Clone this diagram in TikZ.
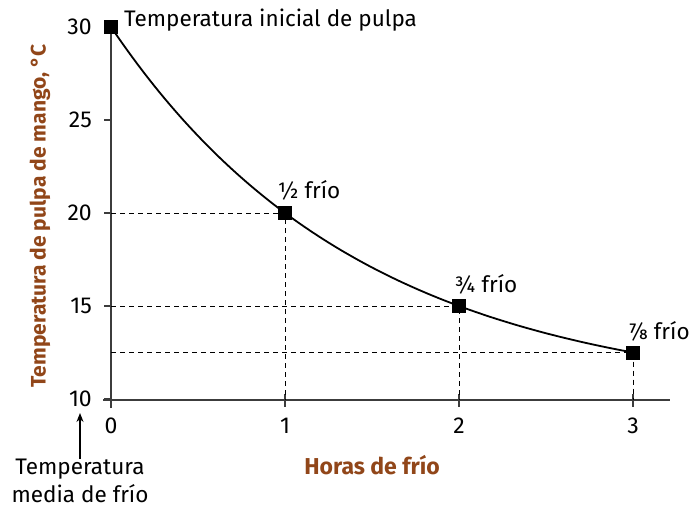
\documentclass[tikz,border=0pt]{standalone}
\usepackage{fontspec}
\setmainfont{Fira Sans}
\usetikzlibrary{arrows.meta}
\definecolor{axbrown}{RGB}{145,70,25}
\definecolor{axgray}{RGB}{60,60,60}
\begin{document}
\begin{tikzpicture}[x=1pt,y=-1pt,
  font=\fontsize{22.5}{27}\selectfont,
  axisline/.style={draw=axgray,line width=1.4pt},
  tickline/.style={draw=axgray,line width=1.2pt},
  guide/.style={draw=black,line width=0.9pt,dash pattern=on 5pt off 4pt},
  curveline/.style={draw=black,line width=1.8pt},
  marker/.style={fill=black,minimum size=14pt,inner sep=0pt,outer sep=0pt},
  ticklab/.style={inner sep=0pt,font=\fontsize{23}{27}\selectfont},
  axlabel/.style={text=axbrown,inner sep=0pt},
  note/.style={inner sep=0pt}]
\useasboundingbox (0,0) rectangle (699,508);
% axes
\coordinate (xl) at (103,400);
\coordinate (xr) at (670,400);
\coordinate (yb) at (111,408);
\coordinate (yt) at (111,24);
\draw[axisline] (xl) -- (xr);
\draw[axisline] (yb) -- (yt);
% y ticks
\foreach \v/\py in {30/27,25/120,20/213,15/306,10/399}{
  \coordinate (yt\v) at (104,\py);
  \coordinate (ya\v) at (111,\py);
  \draw[tickline] (yt\v) -- (ya\v);
  \node[ticklab,anchor=east] (yl\v) at (92,\py) {\v};
}
% x ticks
\foreach \v/\px in {0/111,1/285,2/459,3/633}{
  \coordinate (xa\v) at (\px,394);
  \coordinate (xb\v) at (\px,407);
  \draw[tickline] (xa\v) -- (xb\v);
  \node[ticklab] (xl\v) at (\px,426) {\v};
}
% guide lines
\coordinate (g1) at (111,213);
\coordinate (g2) at (111,306);
\coordinate (g3) at (111,352.5);
\coordinate (h1) at (285,400);
\coordinate (h2) at (459,400);
\coordinate (h3) at (633,400);
\node[marker] (p0) at (111,27) {};
\node[marker] (p1) at (285,213) {};
\node[marker] (p2) at (459,306) {};
\node[marker] (p3) at (633,352.5) {};
\draw[guide] (g1) -- (p1.center) -- (h1);
\draw[guide] (g2) -- (p2.center) -- (h2);
\draw[guide] (g3) -- (p3.center) -- (h3);
% curve
\draw[curveline] plot[domain=0:3,samples=80,smooth] ({111+174*\x},{399-372*exp(-0.693147*\x)});
\node[marker] at (p0) {};
\node[marker] at (p1) {};
\node[marker] at (p2) {};
\node[marker] at (p3) {};
% labels
\node[note,anchor=west] (lab0) at (124,20) {Temperatura inicial de pulpa};
\node[note] (lab1) at (309,190) {½ frío};
\node[note] (lab2) at (486,284) {¾ frío};
\node[note] (lab3) at (659,331) {⅞ frío};
\node[axlabel,rotate=90,font=\fontsize{21}{25}\selectfont\bfseries] (ylab) at (40,216) {Temperatura de pulpa de mango, °C};
\node[axlabel,font=\fontsize{23}{27}\selectfont\bfseries] (xlab) at (372,465) {Horas de frío};
\node[note,align=center,font=\fontsize{22.5}{28}\selectfont] (mean) at (80,481) {Temperatura\\media de frío};
\coordinate (arrtip) at (80,413);
\draw[-{Stealth[length=9pt,width=7pt]},line width=1.2pt] (mean.north) -- (arrtip);
\end{tikzpicture}
\end{document}
